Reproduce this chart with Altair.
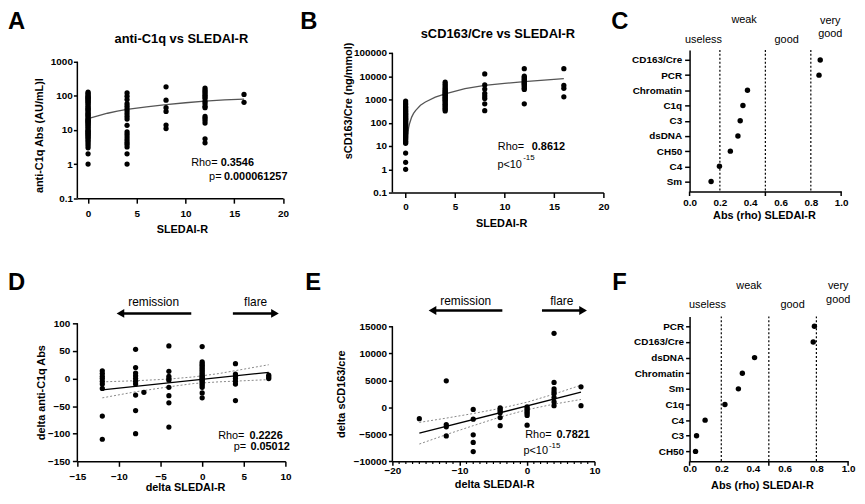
import altair as alt
import pandas as pd

FONT = "Liberation Sans"

# ---------------- Panel A: anti-C1q vs SLEDAI-R ----------------
a_sledai = [0, 4, 8, 12, 16]
a_c1q = [
    [130, 120, 110, 100, 95, 90, 85, 80, 75, 70, 65, 60, 55, 50, 46, 42, 40, 37, 34, 31,
     29, 27, 25, 23, 21, 20, 19, 18, 17, 16, 15, 14, 13, 12, 11, 10, 9.5, 9, 8.5, 8,
     7.5, 7, 6.5, 6, 5.5, 5, 4.5, 4, 3.5, 3, 2, 1],
    [122, 98, 78, 59, 50, 42, 36, 30, 25, 21, 13.7, 8.8, 7.4, 6.2, 5.2, 4.4, 3.8, 3.2, 2, 1],
    [185, 75, 45, 35, 14, 11],
    [170, 150, 135, 120, 105, 95, 85, 70, 60, 50, 45, 25, 22, 19, 16, 5.5, 4.2],
    [110, 65],
]
a_fit_x = [0, 1, 2, 3, 4, 6, 8, 10, 12, 14, 16]
a_fit_y = [21.5, 26, 31, 36, 40.5, 48, 55.5, 63, 70, 76, 81]
a_xticks = [0, 5, 10, 15, 20]
a_yticks = [0.1, 1, 10, 100, 1000]

# ---------------- Panel B: sCD163/Cre vs SLEDAI-R ----------------
b_sledai = [0, 4, 8, 12, 16]
b_cd163 = [
    [850, 700, 600, 500, 450, 400, 360, 330, 300, 270, 250, 230, 210, 190, 175, 160, 150,
     140, 130, 120, 110, 100, 92, 85, 78, 72, 66, 60, 55, 50, 46, 42, 38, 35, 32, 29, 26,
     24, 22, 20, 18, 16, 14.5, 13, 5, 2, 1],
    [5500, 4500, 3800, 3200, 2800, 2500, 2200, 2000, 1800, 1650, 1500, 1350, 1200, 1100,
     1000, 900, 800, 700, 620, 550, 480, 420, 370, 320],
    [12500, 4200, 2800, 1800, 1400, 1100, 650, 330],
    [21000, 10000, 8800, 7800, 7000, 6200, 5500, 5000, 4500, 4000, 3500, 3000, 2700, 650],
    [21000, 4000, 3000, 1300],
]
b_fit_x = [0.13, 0.2, 0.3, 0.4, 0.6, 0.8, 1.0, 1.5, 2, 3, 4, 6, 8, 10, 12, 14, 16]
b_fit_y = [15, 30, 60, 93, 170, 250, 330, 560, 780, 1250, 1750, 2900, 4000, 4900, 5800, 6800, 7800]
b_xticks = [0, 5, 10, 15, 20]
b_yticks = [0.1, 1, 10, 100, 1000, 10000, 100000]

# ---------------- Panel C: |rho| with SLEDAI-R ----------------
c_markers = ["CD163/Cre", "PCR", "Chromatin", "C1q", "C3", "dsDNA", "CH50", "C4", "Sm"]
c_rho = [0.862, 0.854, 0.382, 0.352, 0.334, 0.319, 0.269, 0.197, 0.142]

# ---------------- Panel D: delta anti-C1q vs delta SLEDAI-R ----------------
d_delta = [-12, -8, -7, -4, 0, 4, 8]
d_c1q = [
    [14, 9, 4, 0, -5, -10, -18, -68, -110],
    [53, 20, 10, 5, 0, -5, -10, -30, -58, -100],
    [-25],
    [59, 13, 4, 0, -3, -16, -31, -44, -88],
    [58, 30, 27, 24, 21, 18, 15, 12, 9, 6, 4, 2, 0, -2, -4, -6, -9, -12, -16, -26, -35],
    [27, 8, 4, 0, -5, -10, -40],
    [6, 3, 0],
]
d_fit_x = [-12, 8]
d_fit_y = [-20.5, 11.3]
d_ci_x = [-12, -8, -4, -1, 2, 5, 8]
d_ci_upper = [-6, -4, -1, 3, 9, 17, 25]
d_ci_lower = [-35, -24, -15, -9, -6, -4, -2]
d_xticks = [-15, -10, -5, 0, 5, 10]
d_yticks = [-150, -100, -50, 0, 50, 100]

# ---------------- Panel E: delta sCD163/cre vs delta SLEDAI-R ----------------
e_delta = [-16, -12, -8, -4, 0, 4, 8]
e_cd163 = [
    [-2100],
    [4900, -3200, -3600, -5300],
    [-400, -2200, -5100, -6500, -8200],
    [-100, -400, -700, -1000, -1900, -3400],
    [100, -200, -500, -800, -1100, -1500, -3300],
    [13700, 4600, 3400, 2900, 2500, 1800, 1000, 300],
    [3800, 300],
]
e_fit_x = [-16, 8]
e_fit_y = [-4800, 2800]
e_ci_x = [-16, -12, -8, -4, 0, 4, 8]
e_ci_upper = [-2800, -2000, -1150, -200, 950, 2450, 4100]
e_ci_lower = [-6800, -5050, -3400, -1800, -450, 600, 1450]
e_xticks = [-20, -10, 0, 10]
e_minor_ticks = [v for v in range(-20, 11) if v % 10 != 0]
e_yticks = [-10000, -5000, 0, 5000, 10000, 15000]

# ---------------- Panel F: |rho| with delta SLEDAI-R ----------------
f_markers = ["PCR", "CD163/Cre", "dsDNA", "Chromatin", "Sm", "C1q", "C4", "C3", "CH50"]
f_rho = [0.7875, 0.78, 0.41, 0.333, 0.308, 0.223, 0.098, 0.044, 0.0375]

rho_thresholds = [0.2, 0.5, 0.8]
rho_major_ticks = [0, 0.5, 1.0]
rho_labels = [0, 0.2, 0.4, 0.6, 0.8, 1.0]

# ---------------- helpers ----------------
one = pd.DataFrame({"k": [0]})


def long_df(xs, groups):
    return pd.DataFrame([{"x": x, "y": v} for x, g in zip(xs, groups) for v in g])


def frame(L, R, T, Bot):
    # invisible layout box: extents measured from the plot origin
    return alt.Chart(one).mark_rect(opacity=0).encode(
        x=alt.value(-L), x2=alt.value(R), y=alt.value(-T), y2=alt.value(Bot))


def txt(s, x, y, size=11, weight="normal", align="left", baseline="middle"):
    return alt.Chart(one).mark_text(
        text=s, font=FONT, fontSize=size, fontWeight=weight, align=align,
        baseline=baseline, color="black").encode(x=alt.value(x), y=alt.value(y))


def arrow(tip, tail, y, left=True):
    if left:
        r = alt.Chart(one).mark_rule(color="black", strokeWidth=2.6).encode(
            x=alt.value(tip + 5), x2=alt.value(tail), y=alt.value(y))
        p = alt.Chart(one).mark_point(shape="triangle-left", filled=True, size=80,
                                      color="black", opacity=1).encode(
            x=alt.value(tip + 4.5), y=alt.value(y))
    else:
        r = alt.Chart(one).mark_rule(color="black", strokeWidth=2.6).encode(
            x=alt.value(tail), x2=alt.value(tip - 5), y=alt.value(y))
        p = alt.Chart(one).mark_point(shape="triangle-right", filled=True, size=80,
                                      color="black", opacity=1).encode(
            x=alt.value(tip - 4.5), y=alt.value(y))
    return [r, p]


def dots(df, X, Y):
    return alt.Chart(df).mark_circle(size=28, color="black", opacity=1).encode(x=X, y=Y)


def yline(lo, hi, Y):
    return alt.Chart(pd.DataFrame({"y": [lo], "y2": [hi]})).mark_rule(
        color="black", strokeWidth=1.5).encode(x=alt.value(0), y=Y, y2="y2:Q")


# layout frames (column left/right extents, row top/bottom extents)
COL = [(70, 220), (98, 220), (80, 169)]
ROW0_T, ROW0_B = 40, 219
ROW1_T, ROW1_B = 50, 179

# ---------------- A ----------------
W, H = 207.6, 149.7
XA = alt.X("x:Q", scale=alt.Scale(domain=[-1.1, 20], nice=False, zero=False),
           axis=alt.Axis(values=a_xticks, title="SLEDAI-R", titleX=105.5, titleY=31.8,
                         titleBaseline="middle", tickSize=5, labelPadding=5))
YA = alt.Y("y:Q", scale=alt.Scale(type="log", domain=[0.1, 2233], nice=False),
           axis=alt.Axis(values=a_yticks, title="anti-C1q Abs (AU/mL)l", titleX=-38,
                         titleY=86, titleBaseline="middle", domain=False, tickSize=4,
                         labelPadding=1, labelExpr="'' + datum.value"))
panelA = alt.layer(
    frame(COL[0][0], COL[0][1], ROW0_T, ROW0_B),
    yline(a_yticks[0], a_yticks[-1], YA),
    alt.Chart(pd.DataFrame({"x": a_fit_x, "y": a_fit_y})).mark_line(
        color="#555555", strokeWidth=1.3).encode(x=XA, y=YA),
    dots(long_df(a_sledai, a_c1q), XA, YA),
    txt("A", -70, -40, size=24, weight="bold", baseline="top"),
    txt("anti-C1q vs SLEDAI-R", 105, -11, size=13, weight="bold", align="center"),
    txt("Rho=", 141.5, 114, align="right"),
    txt("0.3546", 144.7, 114, weight="bold"),
    txt("p=", 145.5, 128, align="right"),
    txt("0.000061257", 148, 128, weight="bold"),
).properties(width=W, height=H)

# ---------------- B ----------------
W, H = 213, 144
XB = alt.X("x:Q", scale=alt.Scale(domain=[-1.34, 20], nice=False, zero=False),
           axis=alt.Axis(values=b_xticks, title="SLEDAI-R", titleX=109.7, titleY=31.5,
                         titleBaseline="middle", tickSize=5, labelPadding=4.5))
YB = alt.Y("y:Q", scale=alt.Scale(type="log", domain=[0.1, 134200], nice=False),
           axis=alt.Axis(values=b_yticks, title="sCD163/Cre (ng/mmol)", titleX=-44,
                         titleY=51, titleBaseline="middle", domain=False, tickSize=4,
                         labelPadding=2, labelExpr="'' + datum.value"))
panelB = alt.layer(
    frame(COL[1][0], COL[1][1], ROW0_T, ROW0_B),
    yline(b_yticks[0], b_yticks[-1], YB),
    alt.Chart(pd.DataFrame({"x": b_fit_x, "y": b_fit_y})).mark_line(
        color="#555555", strokeWidth=1.3).encode(x=XB, y=YB),
    dots(long_df(b_sledai, b_cd163), XB, YB),
    txt("B", -93, -40, size=24, weight="bold", baseline="top"),
    txt("sCD163/Cre vs SLEDAI-R", 106.5, -16, size=13, weight="bold", align="center"),
    txt("Rho=", 133, 98.5, align="right"),
    txt("0.8612", 140.7, 98.5, weight="bold"),
    txt("p<10", 106, 116),
    txt("-15", 132, 109.5, size=8),
).properties(width=W, height=H)


# ---------------- C / F ----------------
def rho_panel(letter, markers, rho, W, H, pad, L, R, T, Bot, lab, letter_x, letter_y,
              title_x, title_y, label_pad, ytick, ypad):
    X = alt.X("x:Q", scale=alt.Scale(domain=[0, 1], nice=False, zero=False),
              axis=alt.Axis(values=rho_labels, format=".1f", ticks=False,
                            labelPadding=label_pad, title="Abs (rho) SLEDAI-R",
                            titleX=title_x, titleY=title_y, titleBaseline="middle"))
    Y = alt.Y("y:N", sort=markers,
              scale=alt.Scale(type="point", domain=markers, padding=pad),
              axis=alt.Axis(title=None, tickSize=ytick, labelPadding=ypad))
    layers = [
        frame(L, R, T, Bot),
        alt.Chart(pd.DataFrame({"x": rho_thresholds})).mark_rule(
            color="black", strokeWidth=1.2, strokeDash=[2, 2]).encode(x=X),
        alt.Chart(pd.DataFrame({"x": rho_major_ticks})).mark_rule(
            color="black", strokeWidth=1.5).encode(x=X, y=alt.value(H), y2=alt.value(H + 4.5)),
        alt.Chart(pd.DataFrame({"x": rho, "y": markers})).mark_circle(
            size=30, color="black", opacity=1).encode(x=X, y=Y),
        txt(letter, letter_x, letter_y, size=24, weight="bold", baseline="top"),
    ]
    for s, lx, ly in lab:
        layers.append(txt(s, lx, ly, align="center"))
    return alt.layer(*layers).properties(width=W, height=H)


panelC = rho_panel("C", c_markers, c_rho, 153, 143, 0.66, COL[2][0], COL[2][1],
                   ROW0_T, ROW0_B,
                   [("useless", 14, -10), ("weak", 55, -30), ("good", 98, -10),
                    ("very", 142, -29.5), ("good", 142, -16)],
                   -79, -40, 75, 24.5, 5.6, 5, 3)

panelF = rho_panel("F", f_markers, f_rho, 160, 146.3, 0.635, COL[2][0], COL[2][1],
                   ROW1_T, ROW1_B,
                   [("useless", 18, -11), ("weak", 60, -31), ("good", 104, -11),
                    ("very", 150, -31), ("good", 150, -17)],
                   -78, -46, 73, 24.5, 2.3, 4, 2)

# ---------------- D ----------------
W, H = 210, 146.3
XD = alt.X("x:Q", scale=alt.Scale(domain=[-15, 10], nice=False, zero=False),
           axis=alt.Axis(values=d_xticks, title="delta SLEDAI-R", titleX=108.7, titleY=26.7,
                         titleBaseline="middle", tickSize=5, labelPadding=5.4))
YD = alt.Y("y:Q", scale=alt.Scale(domain=[-150, 112.6], nice=False, zero=False),
           axis=alt.Axis(values=d_yticks, title="delta anti-C1q Abs", titleX=-36,
                         titleY=76.5, titleBaseline="middle", domain=False, tickSize=5,
                         labelPadding=2.7))
d_ci = pd.DataFrame(
    [{"x": x, "y": u, "band": "upper"} for x, u in zip(d_ci_x, d_ci_upper)]
    + [{"x": x, "y": l, "band": "lower"} for x, l in zip(d_ci_x, d_ci_lower)])
panelD = alt.layer(
    frame(COL[0][0], COL[0][1], ROW1_T, ROW1_B),
    yline(d_yticks[0], d_yticks[-1], YD),
    alt.Chart(d_ci).mark_line(color="#888888", strokeWidth=1, strokeDash=[2, 2]).encode(
        x=XD, y=YD, detail="band:N"),
    alt.Chart(pd.DataFrame({"x": d_fit_x, "y": d_fit_y})).mark_line(
        color="black", strokeWidth=1.3).encode(x=XD, y=YD),
    dots(long_df(d_delta, d_c1q), XD, YD),
    txt("D", -70, -46, size=24, weight="bold", baseline="top"),
    txt("remission", 77, -14, size=12, align="center"),
    txt("flare", 180, -14, size=12, align="center"),
    *arrow(39, 115, -3, left=True),
    *arrow(204, 157, -3, left=False),
    txt("Rho=", 168.7, 120.7, align="right"),
    txt("0.2226", 173.7, 120.7, weight="bold"),
    txt("p=", 170.3, 132.3, align="right"),
    txt("0.05012", 174.7, 132.3, weight="bold"),
).properties(width=W, height=H)

# ---------------- E ----------------
W, H = 204, 146.3
XE = alt.X("x:Q", scale=alt.Scale(domain=[-20, 10], nice=False, zero=False),
           axis=alt.Axis(values=e_xticks, title="delta SLEDAI-R", titleX=102.7, titleY=23.7,
                         titleBaseline="middle", tickSize=4, labelPadding=0))
YE = alt.Y("y:Q", scale=alt.Scale(domain=[-10000, 16834], nice=False, zero=False),
           axis=alt.Axis(values=e_yticks, format="d", title="delta sCD163/cre", titleX=-51,
                         titleY=78, titleBaseline="middle", domain=False, tickSize=4,
                         labelPadding=2))
e_ci = pd.DataFrame(
    [{"x": x, "y": u, "band": "upper"} for x, u in zip(e_ci_x, e_ci_upper)]
    + [{"x": x, "y": l, "band": "lower"} for x, l in zip(e_ci_x, e_ci_lower)])
panelE = alt.layer(
    frame(COL[1][0], COL[1][1], ROW1_T, ROW1_B),
    yline(e_yticks[0], e_yticks[-1], YE),
    alt.Chart(pd.DataFrame({"x": e_minor_ticks})).mark_rule(
        color="black", strokeWidth=1.2).encode(x=XE, y=alt.value(H), y2=alt.value(H + 2.7)),
    alt.Chart(e_ci).mark_line(color="#888888", strokeWidth=1, strokeDash=[2, 2]).encode(
        x=XE, y=YE, detail="band:N"),
    alt.Chart(pd.DataFrame({"x": e_fit_x, "y": e_fit_y})).mark_line(
        color="black", strokeWidth=1.3).encode(x=XE, y=YE),
    dots(long_df(e_delta, e_cd163), XE, YE),
    txt("E", -88, -46, size=24, weight="bold", baseline="top"),
    txt("remission", 74, -16, size=12, align="center"),
    txt("flare", 171, -16, size=12, align="center"),
    *arrow(36, 111, -6, left=True),
    *arrow(197, 151, -6, left=False),
    txt("Rho=", 160.7, 119.5, align="right"),
    txt("0.7821", 165.7, 119.5, weight="bold"),
    txt("p<10", 132.3, 135.5),
    txt("-15", 158, 130.5, size=8),
).properties(width=W, height=H)

chart = alt.concat(panelA, panelB, panelC, panelD, panelE, panelF, columns=3,
                   spacing=0, align="each", bounds="full").properties(
    padding=0
).configure_view(stroke=None).configure_axis(
    labelFont=FONT, labelFontSize=10, labelFontWeight="bold", labelColor="black",
    titleFont=FONT, titleFontSize=11, titleFontWeight="bold", titleColor="black",
    domainColor="black", domainWidth=1.5, tickColor="black", tickWidth=1.5,
    grid=False, labelOverlap=False, labelFlush=False,
)

chart.save("out.html", embed_options={"renderer": "svg", "actions": False})
